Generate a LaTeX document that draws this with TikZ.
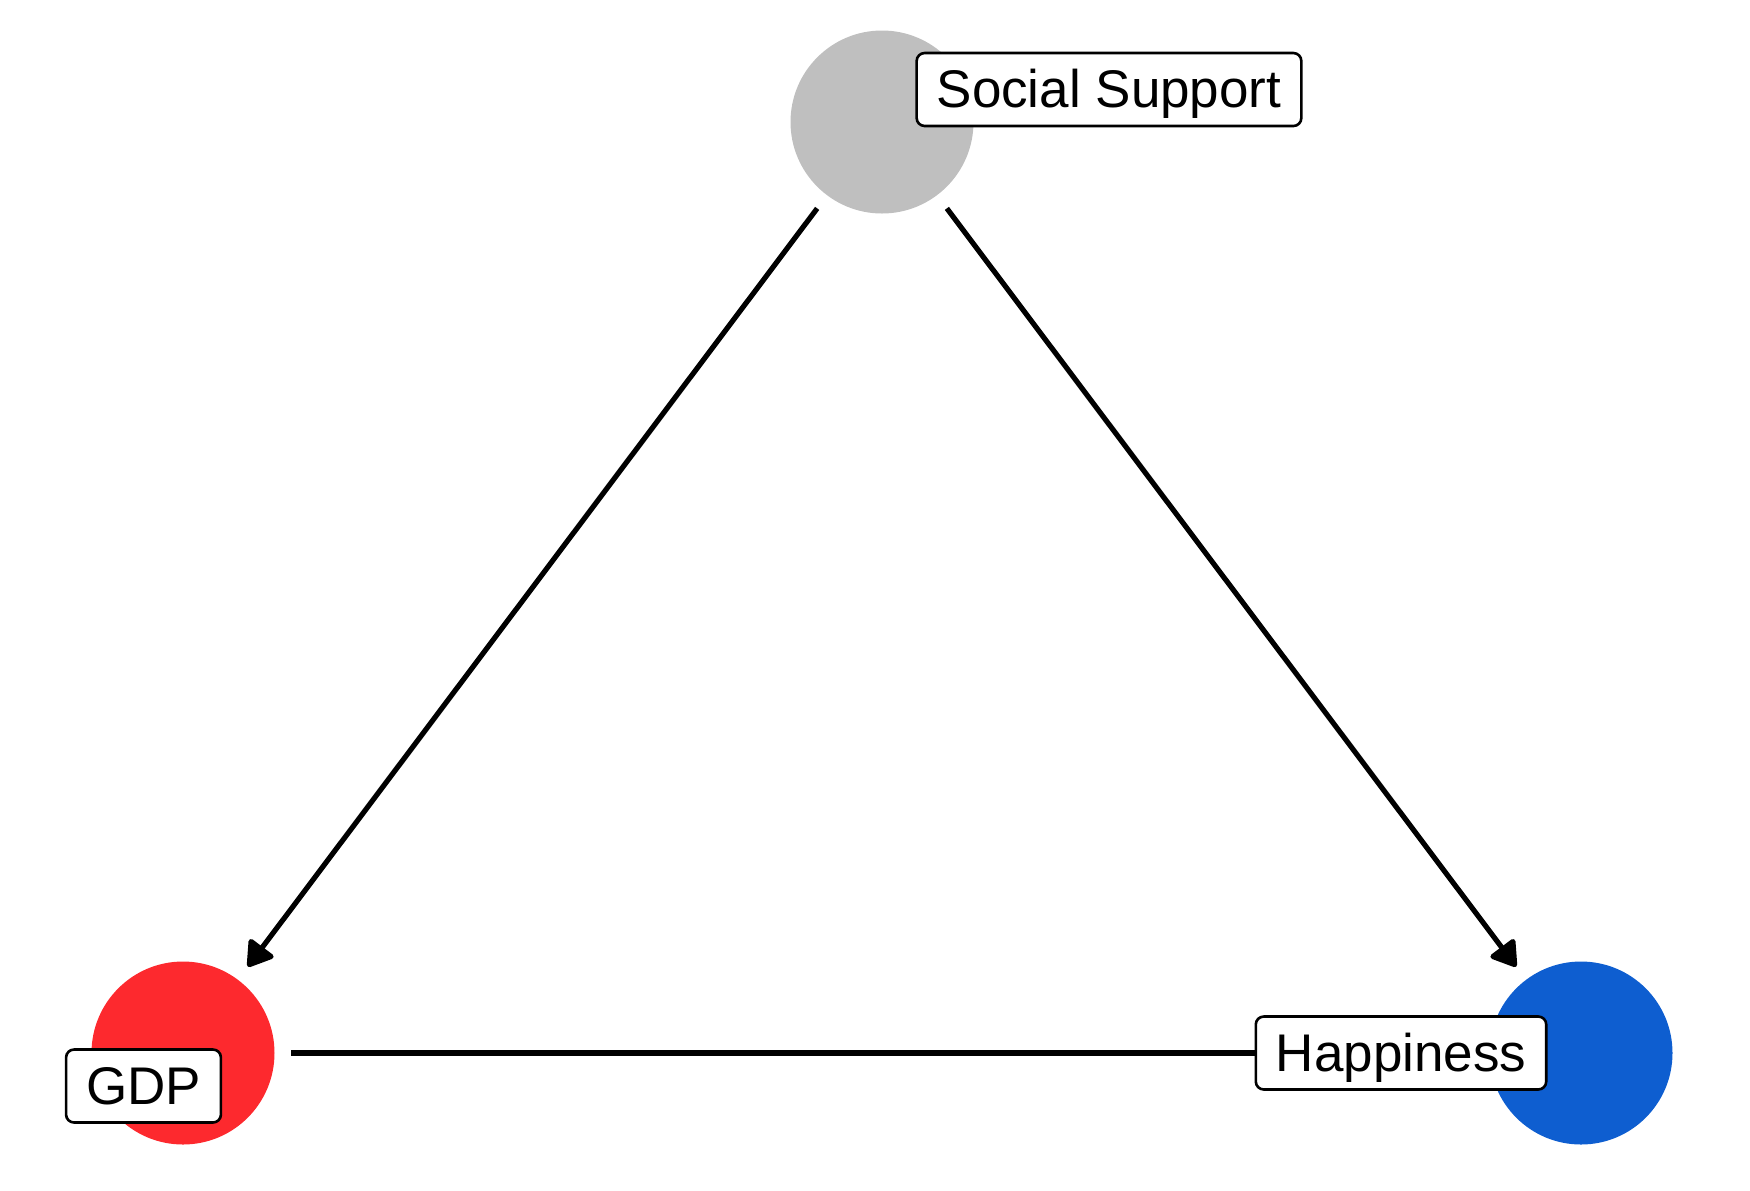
\documentclass[tikz,border=0pt]{standalone}
\usepackage{fontspec}
\setmainfont{Liberation Sans}
\usetikzlibrary{arrows.meta}
\definecolor{ssgray}{RGB}{191,191,191}
\definecolor{gdpred}{RGB}{253,41,46}
\definecolor{hapblue}{RGB}{14,94,208}
\begin{document}
\begin{tikzpicture}[x=0.5pt,y=-0.5pt,
  var/.style={circle,minimum size=91.5pt,inner sep=0pt,outer sep=8.25pt,draw=none},
  lab/.style={draw=black,line width=1.3pt,fill=white,rounded corners=4pt,
    font=\fontsize{26.5pt}{31pt}\selectfont,text height=27.4pt,text depth=9.1pt,
    inner ysep=0pt,inner xsep=10pt},
  edge/.style={line width=2.6pt,line cap=butt},
  arr/.style={edge,-{Triangle[length=13.5pt,width=16.5pt,round]}}]
\useasboundingbox (0,0) rectangle (1750,1190);
\node[var,fill=ssgray] (ss) at (882,122) {};
\node[var,fill=gdpred] (gdp) at (183,1053) {};
\node[var,fill=hapblue] (hap) at (1581,1053) {};
\draw[arr] (ss) -- (gdp);
\draw[arr] (ss) -- (hap);
\draw[edge] (gdp) -- (hap);
\node[lab] (sslab) at (1109,89.5) {Social Support};
\node[lab] (gdplab) at (143.5,1086) {GDP};
\node[lab] (haplab) at (1401,1053) {Happiness};
\end{tikzpicture}
\end{document}
